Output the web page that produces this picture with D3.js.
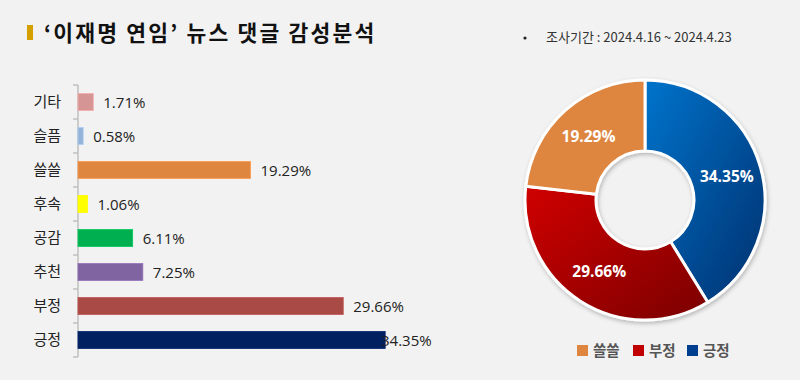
<!DOCTYPE html>
<html><head><meta charset="utf-8">
<script src="https://cdn.jsdelivr.net/npm/d3@7"></script>
<style>
html,body{margin:0;padding:0;background:#f2f2f2;}
svg{display:block;font-family:"Noto Sans CJK KR","Noto Sans",sans-serif;}
</style></head><body>
<svg id="c" width="800" height="380"></svg>
<script>
const categories = ["기타","슬픔","쓸쓸","후속","공감","추천","부정","긍정"];
const values = [1.71,0.58,19.29,1.06,6.11,7.25,29.66,34.35];
const barColors = ["#d59594","#95b3d7","#de853f","#ffff00","#00b050","#8064a2","#a94a47","#002060"];
const donutCats = ["긍정","부정","쓸쓸"];
const donutVals = [34.35,29.66,19.29];
const title = "‘이재명 연임’ 뉴스 댓글 감성분석";
const subtitle = "조사기간 : 2024.4.16 ~ 2024.4.23";
const legendCats = ["쓸쓸","부정","긍정"];

const svg = d3.select("#c");
svg.append("rect").attr("width",800).attr("height",380).attr("fill","#f2f2f2");

const defs = svg.append("defs");
const g1 = defs.append("linearGradient").attr("id","gBlue").attr("x1","0").attr("y1","0").attr("x2","1").attr("y2","1");
g1.append("stop").attr("offset","0%").attr("stop-color","#0074cc");
g1.append("stop").attr("offset","100%").attr("stop-color","#00306e");
const g2 = defs.append("linearGradient").attr("id","gRed").attr("x1","0").attr("y1","0").attr("x2","1").attr("y2","1");
g2.append("stop").attr("offset","0%").attr("stop-color","#d00000");
g2.append("stop").attr("offset","100%").attr("stop-color","#7a0000");
const f = defs.append("filter").attr("id","sh").attr("x","-20%").attr("y","-20%").attr("width","140%").attr("height","140%");
f.append("feDropShadow").attr("dx",1).attr("dy",2).attr("stdDeviation",2).attr("flood-color","#000").attr("flood-opacity",0.25);

// title
svg.append("rect").attr("x",27).attr("y",25).attr("width",6).attr("height",15).attr("fill","#d4a000");
svg.append("text").attr("x",44).attr("y",41).attr("font-size",21.5).attr("letter-spacing",2.2).attr("font-weight","bold").attr("fill","#111").text(title);
svg.append("circle").attr("cx",525).attr("cy",38).attr("r",1.6).attr("fill","#222");
svg.append("text").attr("x",546).attr("y",42).attr("font-size",13).attr("fill","#333").text(subtitle);

// bar chart
const y = d3.scaleBand().domain(categories).range([85,357]).paddingInner(0.5).paddingOuter(0.25);
const x = d3.scaleLinear().domain([0,35]).range([78,391]);
const ax = svg.append("g");
ax.append("line").attr("x1",78).attr("x2",78).attr("y1",85).attr("y2",357).attr("stroke","#bfbfbf").attr("stroke-width",1.5);
const tickPos = categories.map((c,i)=>85 + i*(272/8)).concat([357]);
ax.selectAll(".tk").data(tickPos).join("line").attr("x1",73).attr("x2",78).attr("y1",d=>d).attr("y2",d=>d).attr("stroke","#bfbfbf").attr("stroke-width",1.5);
ax.selectAll(".lb").data(categories).join("text").attr("x",61).attr("y",d=>y(d)+y.bandwidth()/2+5).attr("text-anchor","end").attr("font-size",15).attr("fill","#222").text(d=>d);

svg.selectAll(".bar").data(values).join("rect")
  .attr("x",x(0)).attr("y",(d,i)=>y(categories[i]))
  .attr("width",d=>x(d)-x(0)).attr("height",y.bandwidth())
  .attr("fill",(d,i)=>barColors[i])
  .attr("stroke",(d,i)=>d3.color(barColors[i]).brighter(0.4)).attr("stroke-width",0.8);
svg.selectAll(".vl").data(values).join("text")
  .attr("x",d=>Math.min(x(d)+10,381)).attr("y",(d,i)=>y(categories[i])+y.bandwidth()/2+5.5)
  .attr("font-family","'Open Sans','Noto Sans',sans-serif")
  .attr("font-size",15).attr("fill","#222").text(d=>d.toFixed(2)+"%");

// donut
const cx=645, cy=200, R=120, r0=49;
const pie = d3.pie().sort(null).value(d=>d);
const arcs = pie(donutVals);
const arc = d3.arc().innerRadius(r0).outerRadius(R);
const fills = ["url(#gBlue)","url(#gRed)","#de853f"];
const dg = svg.append("g").attr("transform",`translate(${cx},${cy})`);
dg.append("g").attr("filter","url(#sh)").selectAll("path").data(arcs).join("path")
  .attr("d",arc).attr("fill",(d,i)=>fills[i]).attr("stroke","#fff").attr("stroke-width",3).attr("stroke-linejoin","round");
const lab = d3.arc().innerRadius(85).outerRadius(85);
dg.selectAll(".dl").data(arcs).join("text")
  .attr("transform",d=>`translate(${lab.centroid(d)})`).attr("dy","0.35em")
  .attr("text-anchor","middle").attr("font-family","'Open Sans','Noto Sans',sans-serif")
  .attr("font-size",15.5).attr("font-weight","bold").attr("fill","#fff").text(d=>d.data.toFixed(2)+"%");

// legend
const legColors = ["#de853f","#c00000","#003f8f"];
const legX = [577,633,687];
const lg = svg.append("g");
legendCats.forEach((c,i)=>{
  lg.append("rect").attr("x",legX[i]).attr("y",345).attr("width",11).attr("height",11).attr("fill",legColors[i]);
  lg.append("text").attr("x",legX[i]+16).attr("y",356).attr("font-size",14.5).attr("font-weight","bold").attr("fill","#555").text(c);
});
</script>
</body></html>
